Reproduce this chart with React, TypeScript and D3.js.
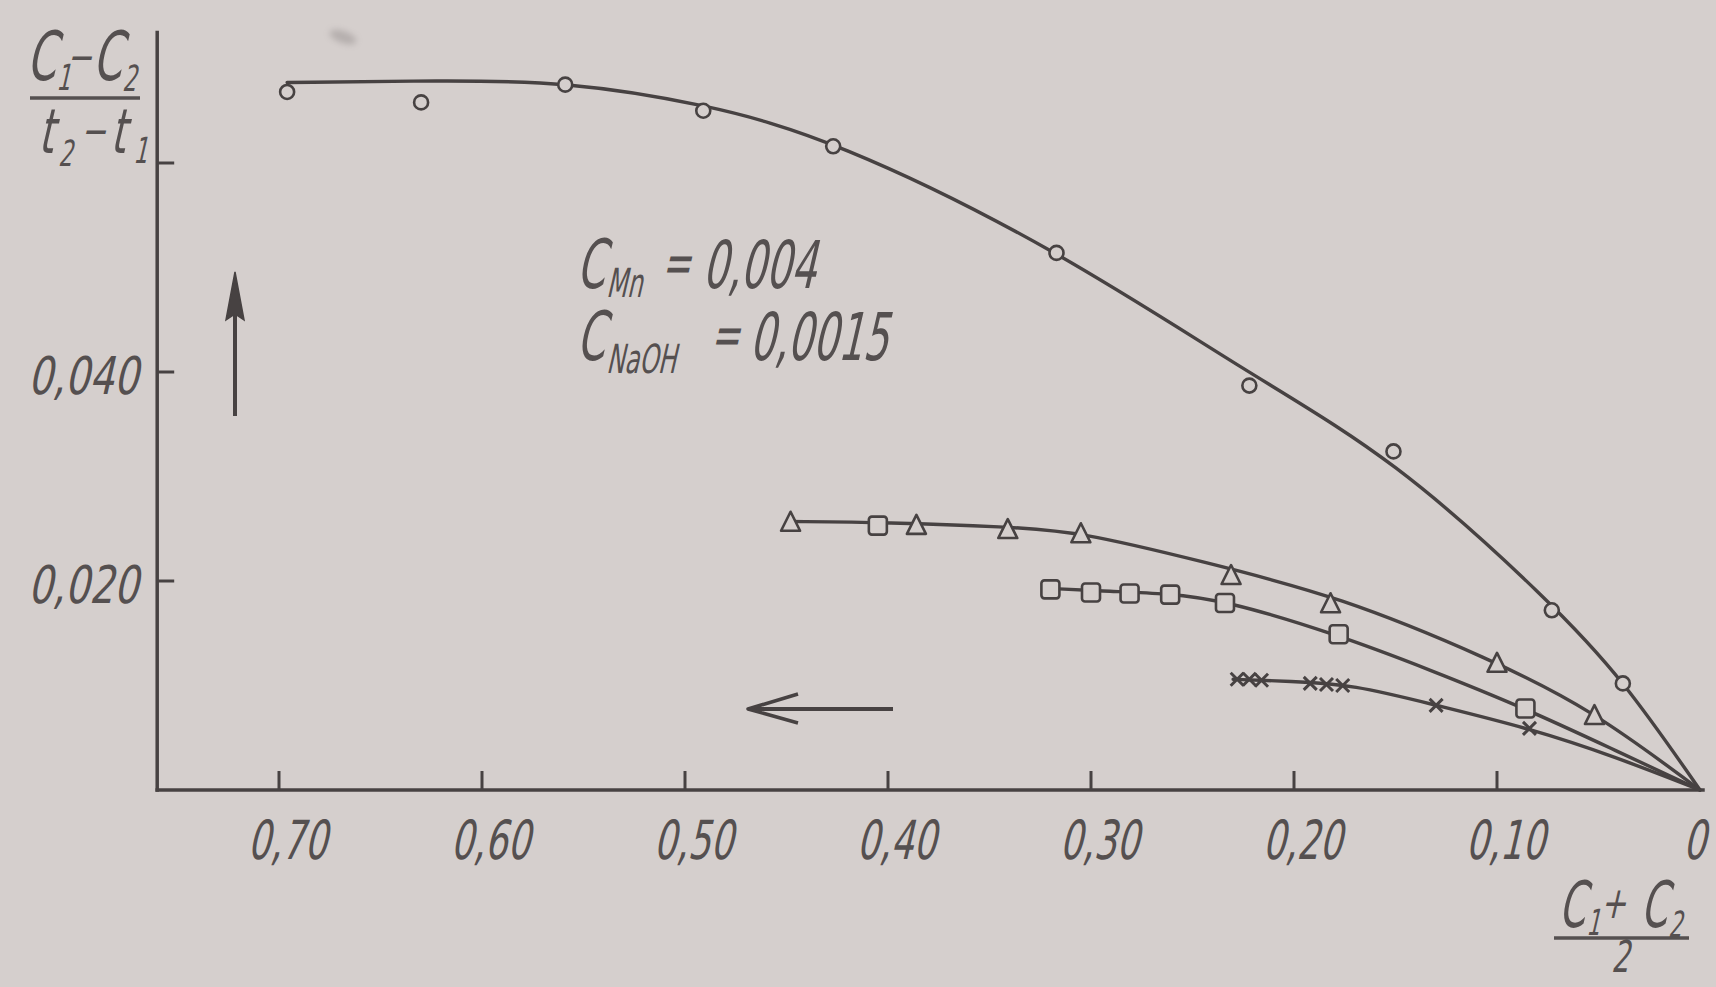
import React from "react";
import * as d3 from "d3";

const W = 1716;
const H = 987;

// Axis ticks
const xTickValues = [0.7, 0.6, 0.5, 0.4, 0.3, 0.2, 0.1, 0];
const xTickLabels = ["0,70", "0,60", "0,50", "0,40", "0,30", "0,20", "0,10", "0"];
const yTickValues = [0.02, 0.04, 0.06];
const yTickLabels = ["0,020", "0,040", ""];

// Circles (upper series): measured points
const circleX = [0.696, 0.63, 0.559, 0.491, 0.427, 0.317, 0.222, 0.151, 0.073, 0.038];
const circleY = [0.0668, 0.0658, 0.0675, 0.065, 0.0616, 0.0514, 0.0387, 0.0324, 0.0172, 0.0102];
// Circles: fitted curve (B-spline guide points)
const circleFitX = [0.696, 0.62, 0.559, 0.491, 0.427, 0.317, 0.222, 0.151, 0.073, 0.038, 0];
const circleFitY = [0.0677, 0.0679, 0.0678, 0.0657, 0.0623, 0.0518, 0.0398, 0.0318, 0.0179, 0.0106, 0];

// Triangles: measured points
const triX = [0.448, 0.386, 0.341, 0.305, 0.231, 0.182, 0.1, 0.052];
const triY = [0.0255, 0.0252, 0.0248, 0.0244, 0.0204, 0.0177, 0.012, 0.007];
// A square point lying on the triangle curve
const extraSquareX = [0.405];
const extraSquareY = [0.0253];
// Triangles: fitted curve
const triFitX = [0.449, 0.4, 0.342, 0.305, 0.246, 0.177, 0.103, 0.054, 0];
const triFitY = [0.0257, 0.0256, 0.0252, 0.0247, 0.0219, 0.0185, 0.0125, 0.0078, 0];

// Squares: measured points
const sqX = [0.32, 0.3, 0.281, 0.261, 0.234, 0.178, 0.086];
const sqY = [0.0192, 0.0189, 0.0188, 0.0187, 0.0179, 0.0149, 0.0078];
// Squares: fitted curve
const sqFitX = [0.321, 0.29, 0.263, 0.235, 0.179, 0.133, 0.086, 0.044, 0];
const sqFitY = [0.0193, 0.019, 0.0188, 0.0182, 0.0149, 0.0115, 0.0078, 0.004, 0];

// Crosses: measured points
const crossX = [0.228, 0.222, 0.216, 0.192, 0.184, 0.176, 0.13, 0.084];
const crossY = [0.0106, 0.0106, 0.0105, 0.0102, 0.0101, 0.01, 0.0081, 0.0059];
// Crosses: fitted curve
const crossFitX = [0.23, 0.202, 0.171, 0.13, 0.084, 0.042, 0];
const crossFitY = [0.0106, 0.0104, 0.0101, 0.0081, 0.0059, 0.0032, 0];

const BG = "#d5cfcd";
const INK = "#474242";
const TEXT = "#555050";
const FONT = "'DejaVu Sans', 'Liberation Sans', sans-serif";

const x = d3.scaleLinear().domain([0, 0.7]).range([1700, 279]);
const y = d3.scaleLinear().domain([0, 0.06]).range([790, 163]);

const zip = (xs: number[], ys: number[]) => xs.map((v, i) => [v, ys[i]] as [number, number]);

const curve = d3
  .line<[number, number]>()
  .x((d) => x(d[0]))
  .y((d) => y(d[1]))
  .curve(d3.curveBasis);

type TxtProps = {
  x: number;
  y: number;
  size: number;
  sx: number;
  anchor?: "start" | "middle" | "end";
  children: React.ReactNode;
};

// Narrow slanted drafting-style lettering
function Txt({ x: tx, y: ty, size, sx, anchor = "start", children }: TxtProps) {
  return (
    <text
      transform={`translate(${tx},${ty}) skewX(-13) scale(${sx},1)`}
      fontSize={size}
      textAnchor={anchor}
      fontFamily={FONT}
      fill={TEXT}
    >
      {children}
    </text>
  );
}

export default function App() {
  const xAxisLeft = 0.76;
  const yAxisTop = 0.0725;
  const x0 = x(xAxisLeft);
  const y0 = y(0);

  const fits = [
    zip(circleFitX, circleFitY),
    zip(triFitX, triFitY),
    zip(sqFitX, sqFitY),
    zip(crossFitX, crossFitY),
  ];

  const triPath = (cx: number, cy: number, s: number) =>
    `M${cx},${cy - s * 0.62}L${cx + s / 2},${cy + s * 0.38}L${cx - s / 2},${cy + s * 0.38}Z`;

  return (
    <svg
      width={W}
      height={H}
      viewBox={`0 0 ${W} ${H}`}
      style={{ position: "absolute", left: 0, top: 0, display: "block" }}
    >
      <defs>
        <filter id="smudge" x="-50%" y="-50%" width="200%" height="200%">
          <feGaussianBlur stdDeviation="3" />
        </filter>
      </defs>
      <rect width={W} height={H} fill={BG} />

      {/* faint ink blot */}
      <ellipse cx={343} cy={37} rx={14} ry={6} transform="rotate(20 343 37)" fill="#7a7373" opacity={0.35} filter="url(#smudge)" />

      {/* axes */}
      <g stroke={INK} strokeWidth={3.5} fill="none" strokeLinecap="square">
        <line x1={x0} y1={y(yAxisTop)} x2={x0} y2={y0} />
        <line x1={x0} y1={y0} x2={x(0) + 3} y2={y0} />
      </g>
      <g stroke={INK} strokeWidth={3}>
        {xTickValues.slice(0, -1).map((v) => (
          <line key={v} x1={x(v)} x2={x(v)} y1={y0} y2={y0 - 19} />
        ))}
        {yTickValues.map((v) => (
          <line key={v} x1={x0} x2={x0 + 17} y1={y(v)} y2={y(v)} />
        ))}
      </g>

      {/* tick labels */}
      {xTickValues.map((v, i) => (
        <Txt key={v} x={v === 0 ? x(v) - 6 : x(v) + 8} y={859} size={54} sx={0.66} anchor="middle">
          {xTickLabels[i]}
        </Txt>
      ))}
      {yTickValues.map((v, i) =>
        yTickLabels[i] ? (
          <Txt key={v} x={138} y={y(v) + 22} size={52} sx={0.74} anchor="end">
            {yTickLabels[i]}
          </Txt>
        ) : null
      )}

      {/* y-axis quantity: (C1 - C2)/(t2 - t1) */}
      <g>
        <Txt x={26} y={80} size={68} sx={0.62}>C</Txt>
        <Txt x={56} y={90} size={36} sx={0.62}>1</Txt>
        <Txt x={66} y={72} size={44} sx={0.7}>−</Txt>
        <Txt x={92} y={80} size={68} sx={0.62}>C</Txt>
        <Txt x={122} y={91} size={36} sx={0.62}>2</Txt>
        <line x1={30} x2={140} y1={98} y2={98} stroke={TEXT} strokeWidth={3.5} />
        <Txt x={38} y={153} size={62} sx={0.62}>t</Txt>
        <Txt x={58} y={166} size={36} sx={0.62}>2</Txt>
        <Txt x={80} y={146} size={44} sx={0.7}>−</Txt>
        <Txt x={110} y={153} size={62} sx={0.62}>t</Txt>
        <Txt x={133} y={163} size={36} sx={0.62}>1</Txt>
      </g>

      {/* x-axis quantity: (C1 + C2)/2 */}
      <g>
        <Txt x={1558} y={927} size={64} sx={0.6}>C</Txt>
        <Txt x={1586} y={935} size={36} sx={0.6}>1</Txt>
        <Txt x={1600} y={918} size={44} sx={0.7}>+</Txt>
        <Txt x={1640} y={927} size={64} sx={0.6}>C</Txt>
        <Txt x={1668} y={937} size={36} sx={0.6}>2</Txt>
        <line x1={1554} x2={1689} y1={938} y2={938} stroke={TEXT} strokeWidth={3.5} />
        <Txt x={1620} y={972} size={44} sx={0.64} anchor="middle">2</Txt>
      </g>

      {/* conditions */}
      <g>
        <Txt x={576} y={288} size={68} sx={0.6}>C</Txt>
        <Txt x={606} y={297} size={40} sx={0.6}>Mn</Txt>
        <Txt x={661} y={282} size={56} sx={0.62}>=</Txt>
        <Txt x={702} y={288} size={66} sx={0.6}>0,004</Txt>
        <Txt x={576} y={360} size={68} sx={0.6}>C</Txt>
        <Txt x={606} y={373} size={40} sx={0.6}>NaOH</Txt>
        <Txt x={710} y={354} size={56} sx={0.62}>=</Txt>
        <Txt x={749} y={360} size={66} sx={0.6}>0,0015</Txt>
      </g>

      {/* direction arrows */}
      <g stroke={INK} fill={INK}>
        <line x1={235} y1={416} x2={235} y2={300} strokeWidth={4} />
        <path d="M235,272L244,320L235,314L226,320Z" strokeWidth={1.5} />
        <line x1={750} y1={709} x2={893} y2={709} strokeWidth={4} />
        <path d="M798,694L748,709L798,723" fill="none" strokeWidth={3.5} strokeLinejoin="round" />
      </g>

      {/* fitted curves */}
      <g fill="none" stroke={INK} strokeWidth={3.4} strokeLinecap="round">
        {fits.map((pts, i) => (
          <path key={i} d={curve(pts) || ""} />
        ))}
      </g>

      {/* markers */}
      <g stroke={INK} strokeWidth={2.6} fill={BG}>
        {zip(circleX, circleY).map(([a, b], i) => (
          <circle key={"c" + i} cx={x(a)} cy={y(b)} r={7} />
        ))}
        {zip(triX, triY).map(([a, b], i) => (
          <path key={"t" + i} d={triPath(x(a), y(b), 19)} strokeLinejoin="round" />
        ))}
        {zip(sqX, sqY)
          .concat(zip(extraSquareX, extraSquareY))
          .map(([a, b], i) => (
            <rect key={"s" + i} x={x(a) - 9} y={y(b) - 9} width={18} height={18} rx={3} />
          ))}
        {zip(crossX, crossY).map(([a, b], i) => {
          const cx = x(a);
          const cy = y(b);
          const s = 6.5;
          return (
            <path
              key={"x" + i}
              d={`M${cx - s},${cy - s}L${cx + s},${cy + s}M${cx - s},${cy + s}L${cx + s},${cy - s}`}
              fill="none"
              strokeWidth={3}
            />
          );
        })}
      </g>
    </svg>
  );
}
